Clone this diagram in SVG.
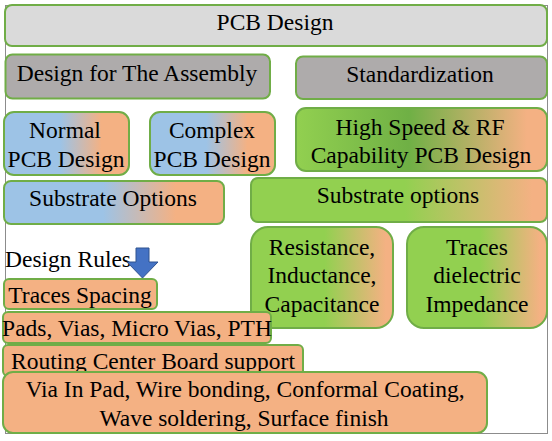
<svg xmlns="http://www.w3.org/2000/svg" width="552" height="441" viewBox="0 0 552 441">
<defs>
<linearGradient id="gBlue" x1="0" y1="0" x2="1" y2="0">
<stop offset="0" stop-color="#9dc3e6"/><stop offset="0.45" stop-color="#9dc3e6"/><stop offset="0.78" stop-color="#f4b183"/><stop offset="1" stop-color="#f4b183"/>
</linearGradient>
<linearGradient id="gHigh" x1="0" y1="0" x2="1" y2="0">
<stop offset="0" stop-color="#92d050"/><stop offset="0.45" stop-color="#6fb045"/><stop offset="0.92" stop-color="#f4b183"/><stop offset="1" stop-color="#f4b183"/>
</linearGradient>
<linearGradient id="gGreen" x1="0" y1="0" x2="1" y2="0">
<stop offset="0" stop-color="#92d050"/><stop offset="0.52" stop-color="#92d050"/><stop offset="0.95" stop-color="#f4b183"/><stop offset="1" stop-color="#f4b183"/>
</linearGradient>
</defs>
<style>
.b{stroke:#70ad47;stroke-width:2}
.t{font-size:23.5px;fill:#000;text-anchor:middle}
.l{text-anchor:start}
.gray{fill:#aeabab}
.org{fill:#f4b183}
</style>
<rect x="5.5" y="5.5" width="542" height="428" fill="#fff" stroke="#8c8c8c" stroke-width="1"/>
<g font-family="Liberation Serif, serif">
<g id="title">
<rect class="b" x="5" y="5" width="542" height="41" rx="7" fill="#dadada"/>
<text class="t" x="275" y="30">PCB Design</text>
</g>
<g id="assembly">
<rect class="b gray" x="5.5" y="54.5" width="264.5" height="44" rx="7"/>
<text class="t" x="137" y="81">Design for The Assembly</text>
</g>
<g id="standard">
<rect class="b gray" x="296" y="56.5" width="251" height="42.5" rx="7"/>
<text class="t" x="420" y="82">Standardization</text>
</g>
<g id="highspeed">
<rect class="b" x="296" y="108" width="251" height="63" rx="10" fill="url(#gHigh)"/>
<text class="t" x="420" y="135">High Speed &amp; RF</text>
<text class="t" x="421" y="163">Capability PCB Design</text>
</g>
<g id="normal">
<rect class="b" x="4" y="112" width="125" height="63" rx="10" fill="url(#gBlue)"/>
<text class="t" x="65" y="138">Normal</text>
<text class="t" x="66" y="167">PCB Design</text>
</g>
<g id="complex">
<rect class="b" x="150" y="112" width="125" height="63" rx="10" fill="url(#gBlue)"/>
<text class="t" x="212" y="138">Complex</text>
<text class="t" x="212" y="167">PCB Design</text>
</g>
<g id="substrate1">
<rect class="b" x="4" y="181" width="220" height="43" rx="7" fill="url(#gBlue)"/>
<text class="t" x="113" y="206">Substrate Options</text>
</g>
<g id="substrate2">
<rect class="b" x="251" y="178" width="296" height="44" rx="7" fill="url(#gGreen)"/>
<text class="t" x="398" y="203">Substrate options</text>
</g>
<g id="rlc">
<rect class="b" x="251" y="227" width="142" height="101" rx="17" fill="url(#gGreen)"/>
<text class="t" x="322" y="255">Resistance,</text>
<text class="t" x="322" y="283">Inductance,</text>
<text class="t" x="322" y="312">Capacitance</text>
</g>
<g id="traces">
<rect class="b" x="407" y="227" width="140" height="101" rx="17" fill="url(#gGreen)"/>
<text class="t" x="477" y="255">Traces</text>
<text class="t" x="477" y="283">dielectric</text>
<text class="t" x="477" y="312">Impedance</text>
</g>
<g id="rules">
<text class="t l" x="5" y="267">Design Rules</text>
</g>
<g id="connectors">
<path d="M136,248 H149 V262 H158 L142.5,278 L127,262 H136 Z" fill="#4472c4" stroke="#2f528f" stroke-width="1"/>
</g>
<g id="spacing">
<rect class="b org" x="4" y="279" width="153" height="30" rx="5"/>
<text class="t" x="80" y="303">Traces Spacing</text>
</g>
<g id="pads">
<rect class="b org" x="3" y="312" width="268" height="31" rx="5"/>
<text class="t" x="137" y="336">Pads, Vias, Micro Vias, PTH</text>
</g>
<g id="routing">
<rect class="b org" x="3" y="345" width="300" height="31" rx="5"/>
<text class="t" x="153" y="369">Routing Center Board support</text>
</g>
<g id="via">
<rect class="b org" x="3" y="372" width="484" height="61" rx="10"/>
<text class="t" x="245" y="397">Via In Pad, Wire bonding, Conformal Coating,</text>
<text class="t" x="244" y="426">Wave soldering, Surface finish</text>
</g>
</g>
</svg>
